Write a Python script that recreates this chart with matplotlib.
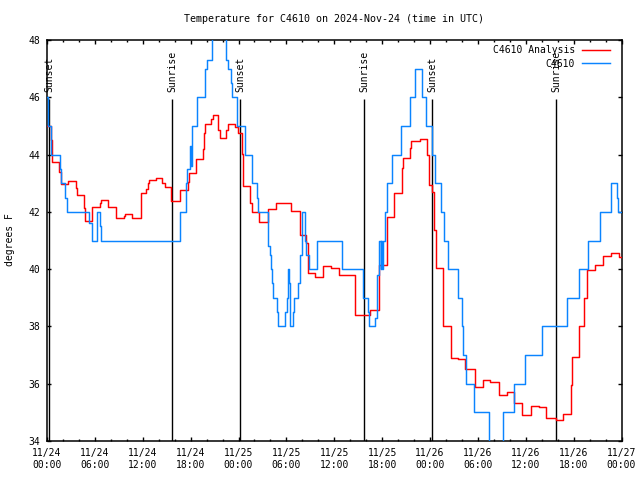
import pandas as pd
import matplotlib
matplotlib.use('Agg')
import matplotlib.pyplot as plt
import matplotlib.dates as mdates

# --- settings ---
plt.rcParams['font.family'] = ['DejaVu Sans Mono']
plt.rcParams['font.size'] = 7

start = pd.Timestamp('2024-11-24 00:00')

# C4610 Analysis (red), hours since 11/24 00:00 UTC, degrees F
analysis_hours = [0.0, 0.46, 0.63, 1.54, 1.72, 2.63, 3.60, 3.72, 4.64, 4.76,
                  5.58, 6.64, 6.77, 7.65, 8.61, 9.59, 9.74, 10.65, 11.72, 12.41,
                  12.66, 12.78, 13.62, 14.45, 14.75, 15.58, 16.61, 17.61, 17.80, 18.64,
                  19.49, 19.68, 19.80, 20.55, 20.77, 21.49, 21.62, 22.43, 22.68, 23.56,
                  23.88, 23.98, 24.40, 24.56, 25.50, 25.73, 26.63, 27.64, 28.64, 30.58,
                  31.65, 32.52, 32.67, 33.65, 34.65, 35.59, 36.60, 38.60, 40.54, 41.55,
                  42.55, 43.55, 44.49, 44.62, 45.49, 45.68, 46.69, 47.63, 47.88, 48.31,
                  48.50, 48.69, 49.57, 50.57, 51.57, 52.39, 53.58, 54.58, 55.52, 56.59,
                  57.65, 58.59, 59.59, 60.60, 61.60, 62.60, 63.79, 64.67, 65.61, 65.74,
                  66.65, 67.36, 67.68, 68.62, 69.68, 70.69, 71.69]
analysis_temp = [45.0, 44.5, 43.75, 43.4, 42.96, 43.08, 42.82, 42.58, 42.12, 41.68,
                 42.18, 42.30, 42.41, 42.18, 41.78, 41.85, 41.92, 41.78, 42.65, 42.8,
                 43.0, 43.11, 43.17, 43.0, 42.88, 42.38, 42.76, 43.05, 43.37, 43.84,
                 44.19, 44.74, 45.06, 45.25, 45.37, 44.86, 44.59, 44.86, 45.06, 44.97,
                 44.90, 44.77, 44.01, 42.90, 42.30, 42.0, 41.66, 42.09, 42.32, 42.03,
                 41.19, 40.90, 39.86, 39.72, 40.11, 40.05, 39.80, 38.40, 38.57, 40.15,
                 41.83, 42.65, 43.52, 43.87, 44.22, 44.47, 44.54, 43.99, 42.94, 42.70,
                 41.37, 40.03, 38.0, 36.89, 36.85, 36.5, 35.87, 36.13, 36.05, 35.61,
                 35.70, 35.32, 34.91, 35.23, 35.20, 34.79, 34.73, 34.94, 35.96, 36.94,
                 38.02, 39.0, 39.97, 40.15, 40.46, 40.55, 40.41]

# C4610 observations (blue)
obs_hours = [0.0, 0.16, 0.54, 1.63, 1.79, 2.26, 2.54, 5.26, 5.60, 6.27,
             6.68, 6.80, 16.67, 17.38, 17.55, 17.86, 17.99, 18.14, 18.84, 19.80,
             20.02, 20.64, 22.43, 22.72, 23.06, 23.15, 23.78, 24.82, 25.63, 25.73,
             26.36, 26.48, 27.64, 27.74, 27.95, 28.04, 28.26, 28.36, 28.83, 28.99,
             29.83, 30.04, 30.24, 30.39, 30.46, 30.87, 30.99, 31.50, 31.71, 31.90,
             32.00, 32.34, 32.52, 32.84, 33.80, 33.88, 36.93, 39.64, 40.19, 40.39,
             41.11, 41.40, 41.61, 41.82, 41.92, 42.02, 42.15, 42.36, 42.57, 43.20,
             44.33, 45.49, 46.12, 46.96, 47.50, 48.19, 48.57, 49.32, 49.76, 50.26,
             51.45, 51.95, 52.17, 52.48, 53.52, 55.43, 57.15, 58.55, 59.91, 62.00,
             65.23, 66.71, 67.84, 69.31, 70.65, 71.44, 71.53]
obs_temp = [46, 45, 44, 43.5, 43, 42.5, 42, 41.6, 41, 42,
            41.5, 41, 42, 43, 43.5, 44.3, 43.6, 45, 46, 47,
            47.3, 49, 47.3, 47, 46.5, 46, 45, 44, 43.5, 43,
            42.5, 42, 41.5, 40.8, 40.5, 40, 39.5, 39, 38.5, 38,
            38.5, 39, 40, 39.5, 38, 38.5, 39, 39.5, 40.5, 41,
            42, 41, 40.5, 40, 40.5, 41, 40, 39, 38.5, 38,
            38.3, 39.8, 41, 40, 41, 40, 41, 42, 43, 44,
            45, 46, 47, 46, 45, 44, 43, 42, 41, 40,
            39, 38, 37, 36, 35, 33.5, 35, 36, 37, 38,
            39, 40, 41, 42, 43, 42.5, 42]

sun_hours = [0.29, 15.70, 24.23, 39.77, 48.29, 63.83]
sun_labels = ['Sunset', 'Sunrise', 'Sunset', 'Sunrise', 'Sunset', 'Sunrise']

y_ticks = [34, 36, 38, 40, 42, 44, 46, 48]


def to_times(hours):
    return [start + pd.Timedelta(hours=h) for h in hours]


# close the last step at the end of the window
a_t = to_times(analysis_hours + [72.0])
a_v = analysis_temp + [analysis_temp[-1]]
o_t = to_times(obs_hours + [72.0])
o_v = obs_temp + [obs_temp[-1]]

fig = plt.figure(figsize=(6.4, 4.8), dpi=100)
ax = fig.add_axes([47 / 640, 39 / 480, 574.5 / 640, 401 / 480])

sun_t = to_times(sun_hours)
ax.vlines(sun_t, 34, 45.95, color='black', linewidth=1.0, zorder=1)
for t, lab in zip(sun_t, sun_labels):
    ax.text(t, 46.2, lab, rotation=90, ha='center', va='bottom', zorder=1)

ax.plot(a_t, a_v, drawstyle='steps-post', color='#ff0000', linewidth=1.05,
        label='C4610 Analysis', zorder=3)
ax.plot(o_t, o_v, drawstyle='steps-post', color='#0a84ff', linewidth=1.05,
        label='C4610', zorder=4)

ax.set_xlim(start, start + pd.Timedelta(hours=72))
ax.set_ylim(34, 48)
ax.set_yticks(y_ticks)

ax.xaxis.set_major_locator(mdates.HourLocator(byhour=[0, 6, 12, 18]))
ax.xaxis.set_minor_locator(mdates.HourLocator(byhour=range(0, 24, 2)))
ax.xaxis.set_major_formatter(mdates.DateFormatter('%m/%d\n%H:%M'))

ax.tick_params(which='both', direction='in', top=True, right=True, width=1)
ax.tick_params(which='major', length=3.2, pad=5)
ax.tick_params(which='minor', length=1.6)
for sp in ax.spines.values():
    sp.set_linewidth(1.1)

ax.legend(loc='upper right', bbox_to_anchor=(0.980, 0.987), markerfirst=False,
          frameon=False, handlelength=2.9, handletextpad=0.7, labelspacing=0.35,
          borderpad=0, borderaxespad=0)

# title is centred over the plot area, like gnuplot does
fig.text(334 / 640, 1 - 19 / 480, 'Temperature for C4610 on 2024-Nov-24 (time in UTC)',
         ha='center', va='center', fontsize=7.2)
fig.text(10 / 640, 0.5, 'degrees F', rotation=90, ha='center', va='center')

fig.savefig('out.png', dpi=100)
